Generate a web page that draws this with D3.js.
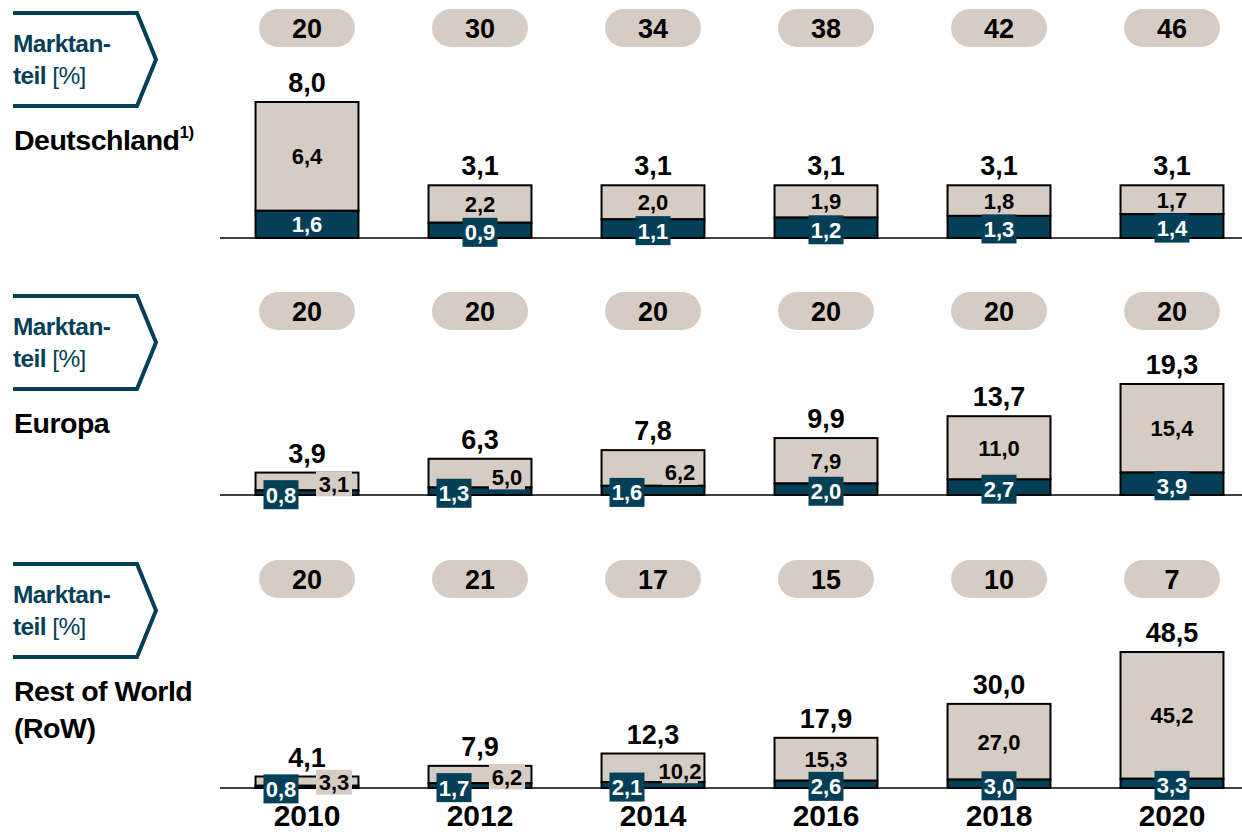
<!DOCTYPE html>
<html><head><meta charset="utf-8">
<script src="https://cdn.jsdelivr.net/npm/d3@7"></script>
<style>
html,body{margin:0;padding:0;background:#fff;}
svg{display:block;}
</style></head>
<body>
<svg id="chart" width="1242" height="832"></svg>
<script>
// ---- data ----
const years = ["2010","2012","2014","2016","2018","2020"];

const shareDE  = [20,30,34,38,42,46];
const darkDE   = [1.6,0.9,1.1,1.2,1.3,1.4];
const beigeDE  = [6.4,2.2,2.0,1.9,1.8,1.7];
const totalDE  = [8.0,3.1,3.1,3.1,3.1,3.1];

const shareEU  = [20,20,20,20,20,20];
const darkEU   = [0.8,1.3,1.6,2.0,2.7,3.9];
const beigeEU  = [3.1,5.0,6.2,7.9,11.0,15.4];
const totalEU  = [3.9,6.3,7.8,9.9,13.7,19.3];

const shareRoW = [20,21,17,15,10,7];
const darkRoW  = [0.8,1.7,2.1,2.6,3.0,3.3];
const beigeRoW = [3.3,6.2,10.2,15.3,27.0,45.2];
const totalRoW = [4.1,7.9,12.3,17.9,30.0,48.5];

const regionNames = [["Deutschland"],["Europa"],["Rest of World","(RoW)"]];
const shareLabel = ["Marktan-","teil","[%]"];

// ---- style / layout ----
const DARK = "#033f57", BEIGE = "#d6ccc3";
const NUM = "'Liberation Sans Narrow','Arial Narrow',sans-serif";
const TXT = "'Liberation Sans',Arial,sans-serif";
const fmt = v => d3.format(".1f")(v).replace(".", ",");

const panels = [
  {share:shareDE, dark:darkDE, beige:beigeDE, total:totalDE, names:regionNames[0], sup:"1)", top:13, base:238, dmax:8.0, h:136},
  {share:shareEU, dark:darkEU, beige:beigeEU, total:totalEU, names:regionNames[1], sup:null, top:296, base:495, dmax:19.3, h:111},
  {share:shareRoW, dark:darkRoW, beige:beigeRoW, total:totalRoW, names:regionNames[2], sup:null, top:564, base:788, dmax:48.5, h:136}
];

const svg = d3.select("#chart");
const x = d3.scaleBand().domain(years).range([220.5,1258.5]).paddingInner(0.405).paddingOuter(0.2025);
const bw = x.bandwidth();

panels.forEach(p => {
  const g = svg.append("g");
  const y = d3.scaleLinear().domain([0,p.dmax]).range([p.base, p.base - p.h]);
  const pillY = p.top + 15;

  // left arrow label
  const t = p.top;
  g.append("path")
    .attr("d", `M13,${t} L137,${t} L156,${t+46.5} L137,${t+93} L13,${t+93}`)
    .attr("fill","none").attr("stroke",DARK).attr("stroke-width",4).attr("stroke-linejoin","miter");
  g.append("text").attr("x",13).attr("y",t+39).attr("font-family",TXT).attr("font-weight","bold")
    .attr("font-size",24.5).attr("fill",DARK).attr("letter-spacing",-0.6).text(shareLabel[0]);
  const t2 = g.append("text").attr("x",13).attr("y",t+71).attr("font-family",TXT)
    .attr("font-size",24.5).attr("fill",DARK).attr("letter-spacing",-0.6);
  t2.append("tspan").attr("font-weight","bold").text(shareLabel[1] + " ");
  t2.append("tspan").attr("font-weight","normal").text(shareLabel[2]);

  // region name
  p.names.forEach((n,i) => {
    const tt = g.append("text").attr("x",14).attr("y",t+137+i*37).attr("font-family",TXT)
      .attr("font-weight","bold").attr("font-size",28.5).attr("fill","#000").attr("letter-spacing",-0.5).text(n);
    if (p.sup && i===0) tt.append("tspan").attr("font-size",17).attr("dy",-12).attr("letter-spacing",-0.5).text(p.sup);
  });

  // pills
  g.selectAll(".pill").data(years).enter().append("rect")
    .attr("x", d => x(d) + bw/2 - 48).attr("y", pillY - 19)
    .attr("width",96).attr("height",38).attr("rx",19).attr("fill",BEIGE);
  g.selectAll(".pillt").data(years).enter().append("text")
    .attr("x", d => x(d) + bw/2).attr("y", pillY).attr("dy","0.36em")
    .attr("text-anchor","middle").attr("font-family",NUM).attr("font-weight","bold")
    .attr("font-size",27).text((d,i) => p.share[i]);

  // bars
  const rows = years.map((yr,i) => ({yr, dark:p.dark[i], beige:p.beige[i], total:p.total[i]}));
  g.selectAll(".beige").data(rows).enter().append("rect")
    .attr("x", d => x(d.yr)).attr("width", bw)
    .attr("y", d => y(d.dark + d.beige)).attr("height", d => y(d.dark) - y(d.dark + d.beige))
    .attr("fill",BEIGE).attr("stroke","#000").attr("stroke-width",2);
  g.selectAll(".dark").data(rows).enter().append("rect")
    .attr("x", d => x(d.yr)).attr("width", bw)
    .attr("y", d => y(d.dark)).attr("height", d => y(0) - y(d.dark))
    .attr("fill",DARK).attr("stroke","#000").attr("stroke-width",2);

  // baseline
  g.append("line").attr("x1",220).attr("x2",1242).attr("y1",p.base).attr("y2",p.base)
    .attr("stroke","#000").attr("stroke-width",1.6);

  // labels
  rows.forEach(d => {
    const cx = x(d.yr) + bw/2;
    const darkH = y(0) - y(d.dark);
    const darkC = (y(0) + y(d.dark)) / 2;
    const beigeC = (y(d.dark) + y(d.dark + d.beige)) / 2;
    const needBox = darkH < 26;
    const boxTop = needBox ? darkC + 2 - 14.5 : y(d.dark);
    const offset = (beigeC + 8) > boxTop - 2;
    const dcx = offset ? cx - 26 : cx;
    const dcy = needBox ? darkC + 2 : darkC;
    if (needBox) {
      g.append("rect").attr("x", dcx - 17.5).attr("y", dcy - 14.5).attr("width",35).attr("height",29).attr("fill",DARK);
    }
    g.append("text").attr("x",dcx).attr("y",dcy).attr("dy","0.36em").attr("text-anchor","middle")
      .attr("font-family",NUM).attr("font-weight","bold").attr("font-size",22).attr("fill","#fff").text(fmt(d.dark));

    let bcx = cx, bcy = beigeC;
    if (offset) {
      bcx = cx + 27;
      bcy = (y(0) + y(d.total)) / 2;
      g.append("rect").attr("x", bcx - 18).attr("y", bcy - 12.5).attr("width",36).attr("height",25).attr("fill",BEIGE);
    }
    g.append("text").attr("x",bcx).attr("y",bcy).attr("dy","0.36em").attr("text-anchor","middle")
      .attr("font-family",NUM).attr("font-weight","bold").attr("font-size",22).attr("fill","#000").text(fmt(d.beige));

    // total
    g.append("text").attr("x",cx).attr("y", y(d.total) - 10).attr("text-anchor","middle")
      .attr("font-family",NUM).attr("font-weight","bold").attr("font-size",27).attr("fill","#000").text(fmt(d.total));
  });
});

// year axis labels
svg.selectAll(".yr").data(years).enter().append("text")
  .attr("x", d => x(d) + bw/2).attr("y", 826).attr("text-anchor","middle")
  .attr("font-family",NUM).attr("font-weight","bold").attr("font-size",30).attr("fill","#000").text(d => d);
</script>
</body></html>
